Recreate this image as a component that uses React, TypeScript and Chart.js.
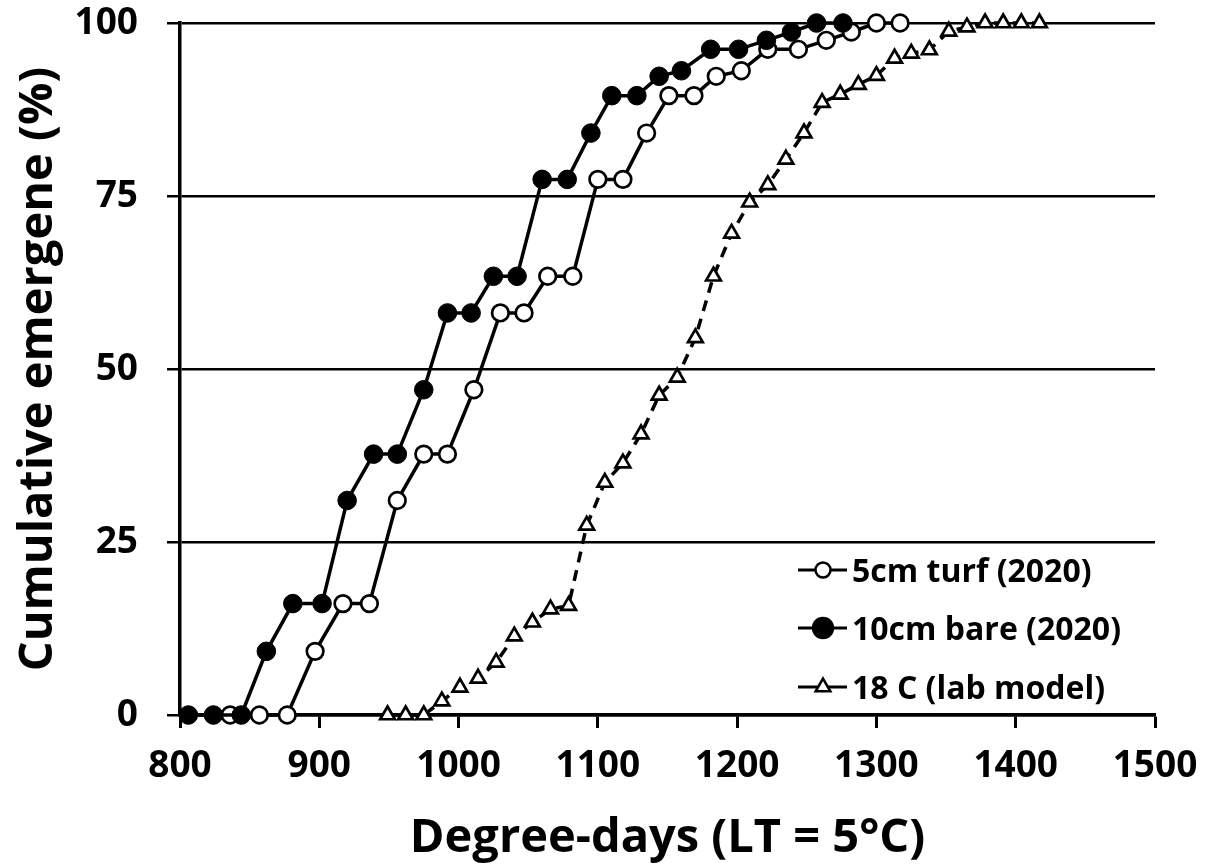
import React, { useEffect, useRef } from "react";
import { Chart, registerables } from "chart.js";

Chart.register(...registerables);

// ---- data ----
const days5cmTurf = [836, 857, 877, 897, 917, 936, 956, 975, 992, 1011, 1030, 1047, 1064, 1082, 1100, 1118, 1135, 1151, 1169, 1185, 1203, 1222, 1244, 1264, 1282, 1300, 1317];
const days10cmBare = [806, 824, 844, 862, 881, 902, 920, 939, 956, 975, 992, 1009, 1025, 1042, 1060, 1078, 1095, 1110, 1128, 1144, 1160, 1181, 1201, 1221, 1239, 1257, 1276];
const emergence2020 = [0, 0, 0, 9.2, 16.1, 16.1, 31.0, 37.7, 37.7, 47.0, 58.1, 58.1, 63.4, 63.4, 77.4, 77.4, 84.1, 89.5, 89.5, 92.3, 93.1, 96.2, 96.2, 97.5, 98.7, 100, 100];
const days18C = [949, 962, 975, 988, 1001, 1014, 1027, 1040, 1053, 1066, 1079, 1092, 1105, 1118, 1131, 1144, 1157, 1170, 1183, 1196, 1209, 1222, 1235, 1248, 1261, 1274, 1287, 1300, 1313, 1325, 1338, 1352, 1365, 1378, 1391, 1404, 1417];
const emergence18C = [0, 0, 0, 2.0, 4.0, 5.3, 7.6, 11.4, 13.4, 15.3, 15.8, 27.4, 33.6, 36.4, 40.6, 46.2, 48.8, 54.5, 63.4, 69.6, 74.1, 76.6, 80.3, 84.1, 88.5, 89.7, 91.1, 92.4, 94.9, 95.6, 96.1, 98.8, 99.4, 100, 100, 100, 100];
const seriesLabels = ["5cm turf (2020)", "10cm bare (2020)", "18 C (lab model)"];
const xMin = 800, xMax = 1500, xStep = 100;
const yMin = 0, yMax = 100, yStep = 25;
const xTitle = "Degree-days (LT = 5°C)";
const yTitle = "Cumulative emergene (%)";

const FONT = "'Open Sans', sans-serif";

const toPoints = (xs: number[], ys: number[]) => xs.map((x, i) => ({ x, y: ys[i] }));

function drawMarker(ctx: CanvasRenderingContext2D, style: string, filled: boolean, x: number, y: number, r: number) {
  ctx.beginPath();
  if (style === "triangle") {
    for (let k = 0; k < 3; k++) {
      const a = (k * 2 * Math.PI) / 3;
      const px = x + Math.sin(a) * r;
      const py = y - Math.cos(a) * r;
      if (k === 0) ctx.moveTo(px, py); else ctx.lineTo(px, py);
    }
    ctx.closePath();
  } else {
    ctx.arc(x, y, r, 0, Math.PI * 2);
  }
  ctx.fillStyle = filled ? "#000" : "#fff";
  ctx.fill();
  ctx.lineWidth = 2.5;
  ctx.strokeStyle = "#000";
  ctx.stroke();
}

const insideLegend = {
  id: "insideLegend",
  afterDraw(chart: any) {
    const { ctx, chartArea } = chart;
    const x0 = chartArea.right - 357;
    const rowOffsets = [145, 87, 28];
    ctx.save();
    chart.data.datasets.forEach((ds: any, i: number) => {
      const y = chartArea.bottom - rowOffsets[i];
      ctx.setLineDash([]);
      ctx.strokeStyle = "#000";
      ctx.lineWidth = 3;
      ctx.beginPath();
      ctx.moveTo(x0, y);
      ctx.lineTo(x0 + 49, y);
      ctx.stroke();
      const filled = ds.pointBackgroundColor === "#000";
      drawMarker(ctx, ds.pointStyle, filled, x0 + 25, y, ds.pointStyle === "triangle" ? 8.5 : filled ? 10 : 7.5);
      ctx.fillStyle = "#000";
      ctx.font = `bold 32px ${FONT}`;
      ctx.textAlign = "left";
      ctx.textBaseline = "alphabetic";
      ctx.fillText(ds.label, x0 + 54, y + 11.5);
    });
    ctx.restore();
  },
};

export default function App() {
  const ref = useRef<HTMLCanvasElement | null>(null);

  useEffect(() => {
    document.body.style.margin = "0";
    const canvas = ref.current;
    if (!canvas) return;
    const tickFont = { family: FONT, size: 37, weight: "bold" as const };
    const titleFont = { family: FONT, size: 47, weight: "bold" as const };
    const plain = (v: any) => String(v);
    const chart = new Chart(canvas, {
      type: "line",
      data: {
        datasets: [
          {
            label: seriesLabels[0],
            data: toPoints(days5cmTurf, emergence2020),
            borderColor: "#000",
            borderWidth: 3.5,
            pointStyle: "circle",
            pointRadius: 8.3,
            pointBorderWidth: 2.7,
            pointBackgroundColor: "#fff",
            pointBorderColor: "#000",
            order: 1,
            clip: false as any,
          },
          {
            label: seriesLabels[1],
            data: toPoints(days10cmBare, emergence2020),
            borderColor: "#000",
            borderWidth: 3.5,
            pointStyle: "circle",
            pointRadius: 9.3,
            pointBorderWidth: 1,
            pointBackgroundColor: "#000",
            pointBorderColor: "#000",
            order: 0,
            clip: false as any,
          },
          {
            label: seriesLabels[2],
            data: toPoints(days18C, emergence18C),
            borderColor: "#000",
            borderWidth: 3.5,
            borderDash: [11, 8],
            pointStyle: "triangle",
            pointRadius: 8.5,
            pointBorderWidth: 2.7,
            pointBackgroundColor: "#fff",
            pointBorderColor: "#000",
            order: 2,
            clip: false as any,
          },
        ],
      },
      options: {
        responsive: false,
        animation: false,
        events: [],
        layout: { padding: { top: 23, right: 52, left: 0, bottom: 0 } },
        plugins: { legend: { display: false }, tooltip: { enabled: false } },
        elements: { line: { tension: 0 } },
        scales: {
          x: {
            type: "linear",
            min: xMin,
            max: xMax,
            afterFit: (s: any) => { s.height = 152; s.paddingLeft = 0; s.paddingRight = 0; },
            ticks: { stepSize: xStep, color: "#000", font: tickFont, padding: 16, maxRotation: 0, callback: plain },
            grid: { drawOnChartArea: false, drawTicks: true, tickLength: 13, tickWidth: 3, tickColor: "#000" },
            border: { color: "#000", width: 3.5 },
            title: { display: true, text: xTitle, color: "#000", font: titleFont, padding: { top: 0, bottom: 0 } },
          },
          y: {
            type: "linear",
            min: yMin,
            max: yMax,
            afterFit: (s: any) => { s.width = 180; s.paddingTop = 0; s.paddingBottom = 0; },
            ticks: { stepSize: yStep, color: "#000", font: tickFont, padding: 29, callback: plain },
            grid: { color: "#000", lineWidth: 2.5, drawTicks: true, tickLength: 13, tickWidth: 2.5, tickColor: "#000" },
            border: { color: "#000", width: 3.5 },
            title: { display: true, text: yTitle, color: "#000", font: titleFont, padding: { top: 10, bottom: 0 } },
          },
        },
      },
      plugins: [insideLegend],
    });
    return () => chart.destroy();
  }, []);

  return <canvas ref={ref} width={1207} height={867} style={{ display: "block", width: 1207, height: 867 }} />;
}
